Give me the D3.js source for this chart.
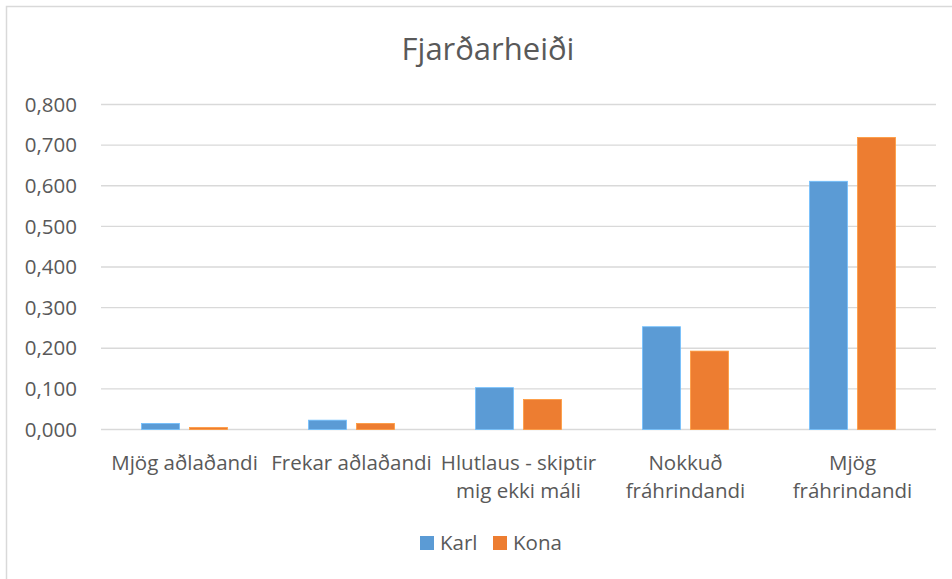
<!DOCTYPE html>
<html>
<head>
<meta charset="utf-8">
<script src="https://cdn.jsdelivr.net/npm/d3@7"></script>
<style>
  body { margin: 0; background: #fff; }
  text { font-family: "Open Sans", "Noto Sans", sans-serif; fill: #595959; }
</style>
</head>
<body>
<script>
// Chart size
var w = 952;
var h = 579;

// Data
var categories = ["Mjög aðlaðandi", "Frekar aðlaðandi", "Hlutlaus - skiptir mig ekki máli", "Nokkuð fráhrindandi", "Mjög fráhrindandi"];
var categoryLines = [["Mjög aðlaðandi"], ["Frekar aðlaðandi"], ["Hlutlaus - skiptir", "mig ekki máli"], ["Nokkuð", "fráhrindandi"], ["Mjög", "fráhrindandi"]];
var seriesNames = ["Karl", "Kona"];
var karl = [0.015, 0.023, 0.103, 0.253, 0.611];
var kona = [0.005, 0.015, 0.074, 0.193, 0.719];
var yTicks = [0, 0.1, 0.2, 0.3, 0.4, 0.5, 0.6, 0.7, 0.8];
var colors = ["#5b9bd5", "#ed7d31"];

var margin = {left: 101, right: 16, top: 105, bottom: 149};
var fs = 20.5;

var svg = d3.select("body")
    .append("svg")
    .attr("width", w)
    .attr("height", h);

// Outer chart border (only top/left are in view)
svg.append("rect")
    .attr("x", 6.5)
    .attr("y", 6.5)
    .attr("width", w + 20)
    .attr("height", h + 20)
    .attr("fill", "none")
    .attr("stroke", "#d9d9d9")
    .attr("stroke-width", 1.5);

var x0 = d3.scaleBand()
    .domain(categories)
    .range([margin.left, w - margin.right]);

var x1 = d3.scaleBand()
    .domain(seriesNames)
    .range([0, x0.bandwidth()])
    .paddingInner(0.208)
    .paddingOuter(0.844);

var y = d3.scaleLinear()
    .domain([0, 0.8])
    .range([h - margin.bottom - 0.5, margin.top - 0.5]);

// Gridlines
svg.append("g")
    .selectAll("line")
    .data(yTicks)
    .enter()
    .append("line")
    .attr("x1", margin.left)
    .attr("x2", w - margin.right)
    .attr("y1", d => y(d))
    .attr("y2", d => y(d))
    .attr("stroke", "#d9d9d9")
    .attr("stroke-width", 1.3);

// Y labels
var fmt = d => d3.format(".3f")(d).replace(".", ",");
svg.append("g")
    .selectAll("text")
    .data(yTicks)
    .enter()
    .append("text")
    .attr("x", 77)
    .attr("y", d => y(d))
    .attr("dy", "0.35em")
    .attr("text-anchor", "end")
    .attr("font-size", fs)
    .text(fmt);

// Bars
var rows = categories.map((c, i) => ({cat: c, vals: [karl[i], kona[i]]}));
var groups = svg.append("g")
    .selectAll("g")
    .data(rows)
    .enter()
    .append("g")
    .attr("transform", d => "translate(" + x0(d.cat) + ",0)");

groups.selectAll("rect")
    .data(d => d.vals.map((v, j) => ({name: seriesNames[j], v: v, j: j})))
    .enter()
    .append("rect")
    .attr("x", d => x1(d.name))
    .attr("width", x1.bandwidth())
    .attr("y", d => y(d.v))
    .attr("height", d => y(0) - y(d.v))
    .attr("fill", d => colors[d.j])
    .attr("stroke", d => d3.color(colors[d.j]).brighter(0.6))
    .attr("stroke-width", 0.8);

// Category labels
var catLabels = svg.append("g")
    .selectAll("text")
    .data(categories)
    .enter()
    .append("text")
    .attr("x", d => x0(d) + x0.bandwidth() / 2)
    .attr("y", 470)
    .attr("text-anchor", "middle")
    .attr("font-size", fs);

catLabels.selectAll("tspan")
    .data((d, i) => categoryLines[i])
    .enter()
    .append("tspan")
    .attr("x", function () { return d3.select(this.parentNode).attr("x"); })
    .attr("dy", (d, i) => i === 0 ? 0 : 28)
    .text(d => d);

// Title
svg.append("text")
    .attr("x", 488)
    .attr("y", 60)
    .attr("text-anchor", "middle")
    .attr("font-size", 31)
    .text("Fjarðarheiði");

// Legend
var legend = svg.append("g")
    .selectAll("g")
    .data(seriesNames)
    .enter()
    .append("g")
    .attr("transform", (d, i) => "translate(" + (420 + i * 73) + ",536)");

legend.append("rect")
    .attr("width", 14)
    .attr("height", 14)
    .attr("fill", (d, i) => colors[i]);

legend.append("text")
    .attr("x", 20)
    .attr("y", 7)
    .attr("dy", "0.35em")
    .attr("font-size", fs)
    .text(d => d);
</script>
</body>
</html>
